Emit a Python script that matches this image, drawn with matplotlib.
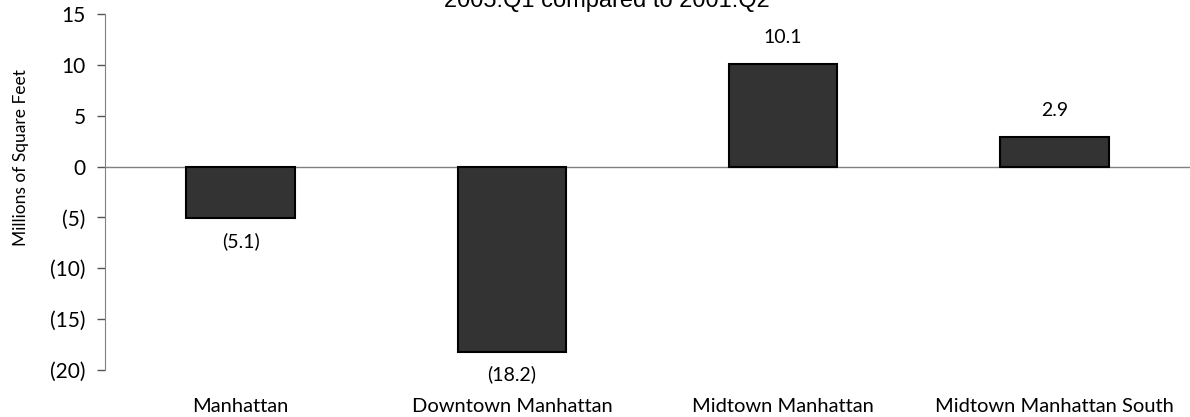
import matplotlib
matplotlib.use("Agg")
import matplotlib.pyplot as plt
from matplotlib.ticker import FuncFormatter

plt.rcParams['font.family'] = ['Lato', 'DejaVu Sans']

categories = ["Manhattan", "Downtown Manhattan", "Midtown Manhattan", "Midtown Manhattan South"]
values = [-5.1, -18.2, 10.1, 2.9]
title = "2005:Q1 compared to 2001:Q2"
ylabel = "Millions of Square Feet"


def paren(v, pos=None):
    if v < 0:
        return "(%g)" % abs(v)
    return "%g" % v


fig = plt.figure(figsize=(11.9, 4.17), dpi=100)
ax = fig.add_axes([105 / 1190, 47 / 417, 1 - 105 / 1190, 356 / 417])

x = list(range(len(categories)))
ax.bar(x, values, width=0.4, color="#333333", edgecolor="black", linewidth=1.5, zorder=3)
ax.axhline(0, color="#808080", linewidth=1, zorder=2)

for xi, v in zip(x, values):
    if v >= 0:
        ax.annotate("%.1f" % v, (xi, v), xytext=(0, 13), textcoords="offset points",
                    ha="center", va="bottom", fontsize=14)
    else:
        ax.annotate("(%.1f)" % abs(v), (xi, v), xytext=(0, -10), textcoords="offset points",
                    ha="center", va="top", fontsize=14)

ax.set_xlim(-0.5, 3.5)
ax.set_ylim(-20, 15)
ax.set_yticks(range(-20, 16, 5))
ax.yaxis.set_major_formatter(FuncFormatter(paren))
ax.set_xticks(x)
ax.set_xticklabels(categories, fontsize=14.5)
ax.tick_params(axis="x", length=0, pad=20)
ax.tick_params(axis="y", length=6, width=1, color="#555555", labelsize=15, pad=8)

for s in ["top", "right", "bottom"]:
    ax.spines[s].set_visible(False)
ax.spines["left"].set_color("#808080")

ax.set_ylabel(ylabel, fontsize=12.5)
ax.yaxis.set_label_coords(-76 / 1085, (370 - 158) / 356)

fig.text(607 / 1190, 1 - 7 / 417, title, ha="center", va="baseline",
         fontsize=17, family=["Liberation Sans", "DejaVu Sans"])

fig.savefig("out.png", dpi=100)
